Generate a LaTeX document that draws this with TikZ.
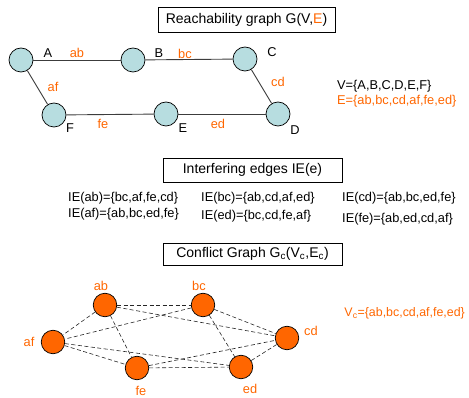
\documentclass[tikz,border=0pt]{standalone}
\usepackage{fontspec}
\setmainfont{Liberation Sans}
\definecolor{rblue}{RGB}{183,221,224}
\definecolor{orng}{RGB}{255,102,0}
\definecolor{edgegray}{RGB}{60,60,60}
\begin{document}
\begin{tikzpicture}[x=1pt,y=-1pt,
  every node/.style={font=\fontsize{12.8}{15}\selectfont, inner sep=0pt},
  rnode/.style={circle, draw=black, line width=0.7pt, fill=rblue, minimum size=24pt},
  cnode/.style={circle, draw=black, line width=0.7pt, fill=orng, minimum size=23.5pt},
  redge/.style={draw=edgegray, line width=0.9pt},
  cedge/.style={draw=black!85, line width=0.6pt, dash pattern=on 4pt off 2.5pt},
  titlebox/.style={draw=black, line width=0.8pt, font=\fontsize{14}{16}\selectfont},
  olab/.style={text=orng},
  blab/.style={text=black}]
\useasboundingbox (0,0) rectangle (469,398);
% ---------- Reachability graph ----------
\node[titlebox, minimum width=177pt, minimum height=25pt] (t1) at (246.5,19.5) {Reachability graph G(V,\textcolor{orng}{E})};
\node[rnode] (A) at (21,60) {};
\node[rnode] (B) at (133,60) {};
\node[rnode] (C) at (245,59) {};
\node[rnode] (F) at (54,115) {};
\node[rnode] (E) at (166,114) {};
\node[rnode] (D) at (278,114) {};
\draw[redge] (A) -- (B);
\draw[redge] (B) -- (C);
\draw[redge] (C) -- (D);
\draw[redge] (A) -- (F);
\draw[redge] (F) -- (E);
\draw[redge] (E) -- (D);
\node[blab] (lA) at (48,53) {A};
\node[blab] (lB) at (159,53) {B};
\node[blab] (lC) at (272,52) {C};
\node[blab] (lF) at (70,128) {F};
\node[blab] (lE) at (183,128) {E};
\node[blab] (lD) at (295,130) {D};
\node[olab] (lab) at (77,53) {ab};
\node[olab] (lbc) at (185,54) {bc};
\node[olab] (laf) at (53,87) {af};
\node[olab] (lcd) at (278,82) {cd};
\node[olab] (lfe) at (103,124) {fe};
\node[olab] (led) at (218,124) {ed};
\node[blab, anchor=west] (Vset) at (337,86) {V=\{A,B,C,D,E,F\}};
\node[olab, anchor=west] (Eset) at (337,101) {E=\{ab,bc,cd,af,fe,ed\}};
% ---------- Interfering edges ----------
\node[titlebox, minimum width=179pt, minimum height=24pt] (t2) at (252.5,170) {Interfering edges IE(e)};
\node[anchor=west] (ie1) at (68,198.5) {IE(ab)=\{bc,af,fe,cd\}};
\node[anchor=west] (ie2) at (201,198.5) {IE(bc)=\{ab,cd,af,ed\}};
\node[anchor=west] (ie3) at (342,198.5) {IE(cd)=\{ab,bc,ed,fe\}};
\node[anchor=west] (ie4) at (68,214) {IE(af)=\{ab,bc,ed,fe\}};
\node[anchor=west] (ie5) at (201,216) {IE(ed)=\{bc,cd,fe,af\}};
\node[anchor=west] (ie6) at (342,219.5) {IE(fe)=\{ab,ed,cd,af\}};
% ---------- Conflict graph ----------
\node[titlebox, minimum width=179pt, minimum height=22pt] (t3) at (252.5,254) {Conflict Graph G$_{\mathrm{c}}$(V$_{\mathrm{c}}$,E$_{\mathrm{c}}$)};
\node[cnode] (cab) at (105,305) {};
\node[cnode] (cbc) at (203,305) {};
\node[cnode] (ccd) at (287,338) {};
\node[cnode] (caf) at (53,342) {};
\node[cnode] (cfe) at (137,368) {};
\node[cnode] (ced) at (241,367) {};
\draw[cedge] (cab) -- (cbc);
\draw[cedge] (cab) -- (ccd);
\draw[cedge] (cab) -- (caf);
\draw[cedge] (cab) -- (cfe);
\draw[cedge] (cbc) -- (caf);
\draw[cedge] (cbc) -- (ccd);
\draw[cedge] (cbc) -- (ced);
\draw[cedge] (caf) -- (cfe);
\draw[cedge] (caf) -- (ced);
\draw[cedge] (cfe) -- (ced);
\draw[cedge] (cfe) -- (ccd);
\draw[cedge] (ced) -- (ccd);
\node[olab] (lcab) at (101,286) {ab};
\node[olab] (lcbc) at (199,286) {bc};
\node[olab] (lccd) at (311,331) {cd};
\node[olab] (lcaf) at (29,342) {af};
\node[olab] (lcfe) at (141,391) {fe};
\node[olab] (lced) at (250,389) {ed};
\node[olab, anchor=east, font=\fontsize{12.4}{15}\selectfont] (Vc) at (465,313) {V$_{\mathrm{c}}$=\{ab,bc,cd,af,fe,ed\}};
\end{tikzpicture}
\end{document}
